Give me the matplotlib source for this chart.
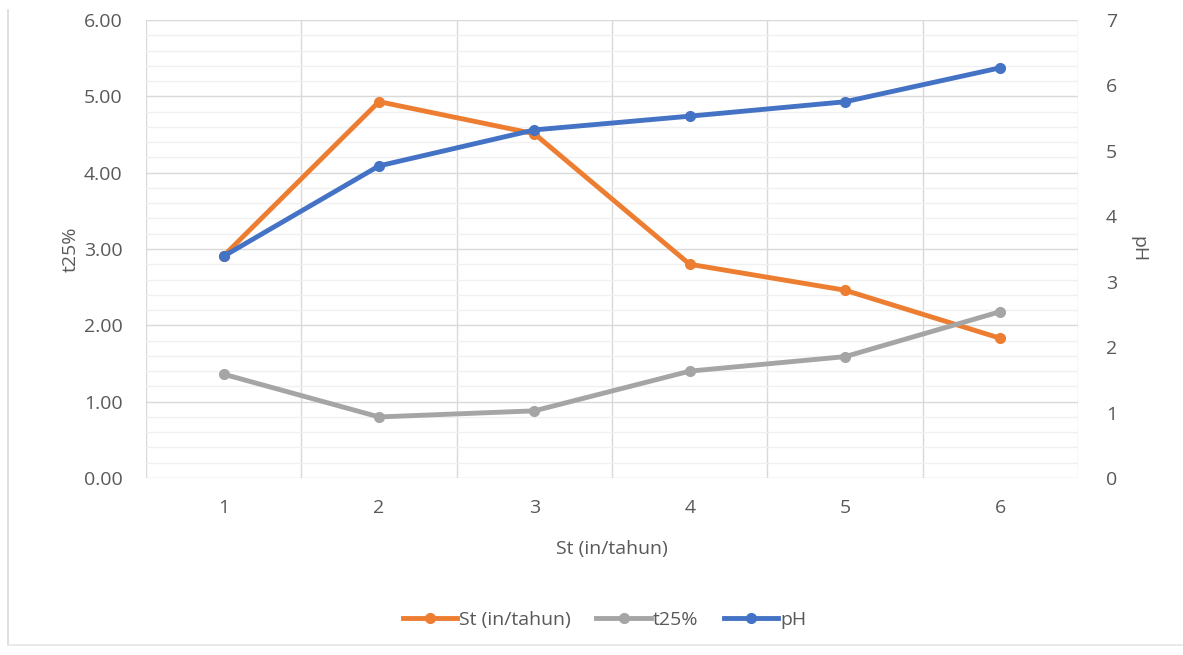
import matplotlib.pyplot as plt
from matplotlib.lines import Line2D
import numpy as np

# data
categories = [1, 2, 3, 4, 5, 6]
st_values = [2.91, 4.93, 4.51, 2.80, 2.46, 1.83]
t25_values = [1.36, 0.80, 0.88, 1.40, 1.59, 2.18]
ph_values = [3.39, 4.77, 5.32, 5.53, 5.75, 6.27]

left_ticks = [0, 1, 2, 3, 4, 5, 6]
right_ticks = [0, 1, 2, 3, 4, 5, 6, 7]

orange = "#ED7D31"
gray = "#A5A5A5"
blue = "#4472C4"
text_col = "#595959"
grid_major = "#D9D9D9"
grid_minor = "#F0F0F0"
fs = 14

plt.rcParams['font.family'] = ['Open Sans', 'DejaVu Sans']

fig = plt.figure(figsize=(11.83, 6.55), dpi=100)
ax = fig.add_axes([0.1234, 0.2702, 0.7879, 0.6993])
ax2 = ax.twinx()

x = np.arange(len(categories))

ax.set_xlim(-0.5, len(categories) - 0.5)
ax.set_ylim(0, 6)
ax2.set_ylim(0, 7)

# gridlines: vertical between categories, horizontal major/minor on left axis
for xv in np.arange(-0.5, len(categories), 1.0):
    ax.axvline(xv, color=grid_major, lw=1.0, zorder=0)
for yv in np.arange(0, 6.01, 0.2):
    if abs(yv - round(yv)) < 1e-6:
        ax.axhline(yv, color=grid_major, lw=1.0, zorder=0.5)
    else:
        ax.axhline(yv, color=grid_minor, lw=1.0, zorder=0)

ax.plot(x, st_values, color=orange, lw=3.5, marker='o', ms=7, zorder=3)
ax.plot(x, t25_values, color=gray, lw=3.5, marker='o', ms=7, zorder=3)
ax2.plot(x, ph_values, color=blue, lw=3.5, marker='o', ms=7, zorder=3)

ax.set_xticks(x)
ax.set_xticklabels([str(c) for c in categories])
ax.set_yticks(left_ticks)
ax.set_yticklabels(["%.2f" % v for v in left_ticks])
ax2.set_yticks(right_ticks)
ax2.set_yticklabels([str(v) for v in right_ticks])

for a in (ax, ax2):
    for s in a.spines.values():
        s.set_visible(False)
    a.tick_params(length=0, colors=text_col, labelsize=fs)

ax.tick_params(axis='x', pad=15)
ax.tick_params(axis='y', pad=17)
ax2.tick_params(axis='y', pad=20)

ax.set_xlabel("St (in/tahun)", color=text_col, fontsize=fs, labelpad=17)
ax.set_ylabel("t25%", color=text_col, fontsize=fs, labelpad=3)
ax2.set_ylabel("pH", color=text_col, fontsize=fs, rotation=270, labelpad=22)

handles = [
    Line2D([], [], color=orange, lw=3.5, marker='o', ms=7),
    Line2D([], [], color=gray, lw=3.5, marker='o', ms=7),
    Line2D([], [], color=blue, lw=3.5, marker='o', ms=7),
]
fig.legend(handles, ["St (in/tahun)", "t25%", "pH"], loc='center',
           bbox_to_anchor=(0.511, 0.053), ncol=3, frameon=False,
           fontsize=fs, labelcolor=text_col, handlelength=2.8,
           handletextpad=0.1, columnspacing=1.3)

# faint chart border on the left and bottom
fig.add_artist(Line2D([0.007, 0.007], [0.015, 0.985], color="#D9D9D9", lw=1.2))
fig.add_artist(Line2D([0.007, 1.0], [0.015, 0.015], color="#E6E6E6", lw=1.2))

fig.savefig("out.png", dpi=100)
